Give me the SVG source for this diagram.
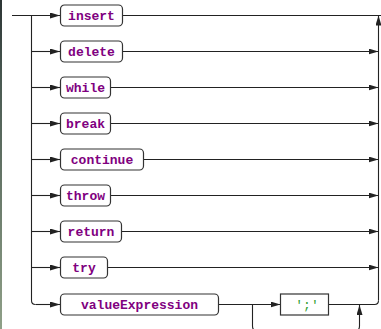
<svg xmlns="http://www.w3.org/2000/svg" width="381" height="329" viewBox="0 0 381 329">
<style>
.box{fill:#fff;stroke:#333;stroke-width:1.2}
.kw{font-family:"Liberation Mono",monospace;font-weight:bold;font-size:13px;fill:#800080;text-anchor:middle}
.lit{font-family:"Liberation Mono",monospace;font-size:13px;fill:#33a033;text-anchor:middle}
.ln{fill:none;stroke:#222;stroke-width:1.1}
.arr{marker-end:url(#ah)}
</style>
<defs>
<marker id="ah" markerUnits="userSpaceOnUse" markerWidth="10" markerHeight="6" refX="10" refY="3" orient="auto">
<path d="M0,0 L10,3 L0,6 z" fill="#222"/>
</marker>
<linearGradient id="edge" x1="0" y1="0" x2="0" y2="1">
<stop offset="0" stop-color="#2c3434"/>
<stop offset="0.25" stop-color="#4a5a52"/>
<stop offset="1" stop-color="#8fa088"/>
</linearGradient>
</defs>
<rect width="381" height="329" fill="#fff"/>
<rect x="0" y="0" width="2" height="329" fill="url(#edge)"/>
<g id="connectors">
<path class="ln arr" d="M12 15.5 H60"/>
<path class="ln" d="M123 15.5 H381"/>
<path class="ln" d="M31.5 15.5 V300.5 Q31.5 304.5 35.5 304.5"/>
<path class="ln arr" d="M31.5 51.5 H60"/>
<path class="ln arr" d="M31.5 87.5 H60"/>
<path class="ln arr" d="M31.5 123.5 H60"/>
<path class="ln arr" d="M31.5 159.5 H60"/>
<path class="ln arr" d="M31.5 195.5 H60"/>
<path class="ln arr" d="M31.5 231.5 H60"/>
<path class="ln arr" d="M31.5 267.5 H60"/>
<path class="ln arr" d="M35.5 304.5 H60"/>
<path class="ln arr" d="M123 51.5 H378.5"/>
<path class="ln arr" d="M111 87.5 H378.5"/>
<path class="ln arr" d="M111 123.5 H378.5"/>
<path class="ln arr" d="M144 159.5 H378.5"/>
<path class="ln arr" d="M111 195.5 H378.5"/>
<path class="ln arr" d="M122 231.5 H378.5"/>
<path class="ln arr" d="M108 267.5 H378.5"/>
<path class="ln arr" d="M219 304.5 H280.5"/>
<path class="ln arr" d="M252.5 304.5 V326 Q252.5 331 257.5 331 H354.5 Q359.5 331 359.5 326 V305"/>
<path class="ln" d="M328.5 304.5 H374.5 Q378.5 304.5 378.5 300.5"/>
<path class="ln arr" d="M378.5 300.5 V15.5"/>
</g>
<g id="insert"><rect class="box" x="60.5" y="5" width="62" height="21" rx="4"/><text class="kw" x="91.5" y="19.5">insert</text></g>
<g id="delete"><rect class="box" x="60.5" y="41" width="62" height="21" rx="4"/><text class="kw" x="91.5" y="55.5">delete</text></g>
<g id="while"><rect class="box" x="60.5" y="77" width="50" height="21" rx="4"/><text class="kw" x="85.5" y="91.5">while</text></g>
<g id="break"><rect class="box" x="60.5" y="113" width="50" height="21" rx="4"/><text class="kw" x="85.5" y="127.5">break</text></g>
<g id="continue"><rect class="box" x="60.5" y="149" width="83" height="21" rx="4"/><text class="kw" x="102" y="163.5">continue</text></g>
<g id="throw"><rect class="box" x="60.5" y="185" width="50" height="21" rx="4"/><text class="kw" x="85.5" y="199.5">throw</text></g>
<g id="return"><rect class="box" x="60.5" y="221" width="61" height="21" rx="4"/><text class="kw" x="91" y="235.5">return</text></g>
<g id="try"><rect class="box" x="60.5" y="257" width="47" height="21" rx="4"/><text class="kw" x="84" y="271.5">try</text></g>
<g id="valueExpression"><rect class="box" x="60.5" y="294" width="158" height="21" rx="4"/><text class="kw" x="139.5" y="308.5">valueExpression</text></g>
<g id="semicolon"><rect class="box" x="280.5" y="294" width="48" height="21"/><text class="lit" x="307" y="308.5">';'</text></g>
</svg>
